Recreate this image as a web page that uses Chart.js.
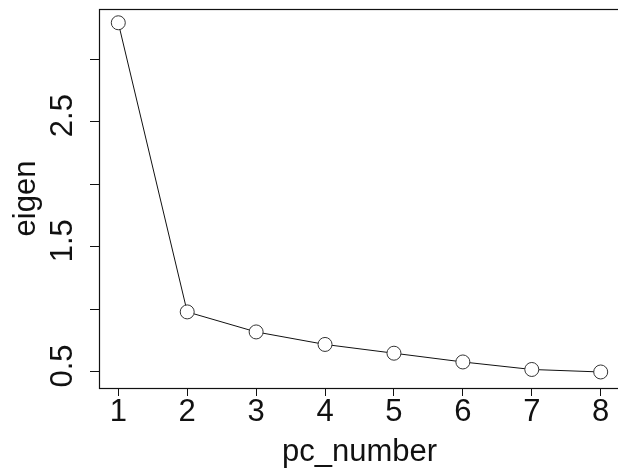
<!DOCTYPE html>
<html>
<head>
<meta charset="utf-8">
<script src="https://cdn.jsdelivr.net/npm/chart.js@4/dist/chart.umd.min.js"></script>
<style>
  html, body { margin: 0; padding: 0; background: #fff; overflow: hidden; }
  canvas { display: block; }
</style>
</head>
<body>
<canvas id="c" width="624" height="474"></canvas>
<script>
const pcNumbers = [1, 2, 3, 4, 5, 6, 7, 8];
const eigenValues = [3.29, 0.98, 0.82, 0.72, 0.65, 0.58, 0.52, 0.50];
const xTickValues = [1, 2, 3, 4, 5, 6, 7, 8];
const yTickValues = [0.5, 1.0, 1.5, 2.0, 2.5, 3.0];
const yTickLabels = ['0.5', '', '1.5', '', '2.5', ''];
const xTitle = 'pc_number';
const yTitle = 'eigen';

const FONT = '"Liberation Sans", Arial, sans-serif';

const boxAndYLabels = {
  id: 'boxAndYLabels',
  afterDraw(chart) {
    const ctx = chart.ctx;
    const a = chart.chartArea;
    const ys = chart.scales.y;
    ctx.save();
    ctx.strokeStyle = '#111';
    ctx.lineWidth = 1.2;
    ctx.strokeRect(a.left + 0.5, a.top + 0.5, a.right - a.left, a.bottom - a.top);
    ctx.fillStyle = '#111';
    ctx.font = '31px ' + FONT;
    ctx.textAlign = 'center';
    ctx.textBaseline = 'alphabetic';
    yTickValues.forEach((v, i) => {
      const lab = yTickLabels[i];
      if (!lab) return;
      const py = ys.getPixelForValue(v) - 6;
      ctx.save();
      ctx.translate(72, py);
      ctx.rotate(-Math.PI / 2);
      ctx.fillText(lab, 0, 0);
      ctx.restore();
    });
    ctx.restore();
  }
};

new Chart(document.getElementById('c'), {
  type: 'line',
  data: {
    datasets: [{
      data: pcNumbers.map((x, i) => ({ x: x, y: eigenValues[i] })),
      borderColor: '#111',
      borderWidth: 1,
      pointRadius: 7,
      pointBackgroundColor: '#fff',
      pointBorderColor: '#333',
      pointBorderWidth: 1,
      tension: 0,
      fill: false,
      clip: false
    }]
  },
  options: {
    responsive: false,
    animation: false,
    devicePixelRatio: 1,
    layout: { autoPadding: false, padding: { top: 9, right: 4, left: 0, bottom: 0 } },
    plugins: { legend: { display: false }, tooltip: { enabled: false } },
    scales: {
      x: {
        type: 'linear',
        min: 0.72,
        max: 8.28,
        afterBuildTicks: (s) => { s.ticks = xTickValues.map(v => ({ value: v })); },
        afterFit: (s) => { s.height = 86; s.paddingLeft = 0; s.paddingRight = 0; },
        border: { display: false },
        grid: { drawOnChartArea: false, drawTicks: true, tickLength: 8, color: '#111', lineWidth: 1 },
        ticks: {
          color: '#111',
          font: { family: FONT, size: 31, lineHeight: 1 },
          padding: 1,
          maxRotation: 0,
          autoSkip: false,
          callback: (v) => String(v)
        },
        title: {
          display: true,
          text: xTitle,
          color: '#111',
          font: { family: FONT, size: 31, lineHeight: 1.2 },
          padding: { top: 0, bottom: 3 }
        }
      },
      y: {
        type: 'linear',
        min: 0.372,
        max: 3.40,
        afterBuildTicks: (s) => { s.ticks = yTickValues.map(v => ({ value: v })); },
        afterFit: (s) => { s.width = 99; s.paddingTop = 0; s.paddingBottom = 0; },
        border: { display: false },
        grid: { drawOnChartArea: false, drawTicks: true, tickLength: 9, color: '#111', lineWidth: 1 },
        ticks: { display: false },
        title: {
          display: true,
          text: yTitle,
          color: '#111',
          font: { family: FONT, size: 31, lineHeight: 1.2 },
          padding: { top: 8, bottom: 0 }
        }
      }
    }
  },
  plugins: [boxAndYLabels]
});
</script>
</body>
</html>
